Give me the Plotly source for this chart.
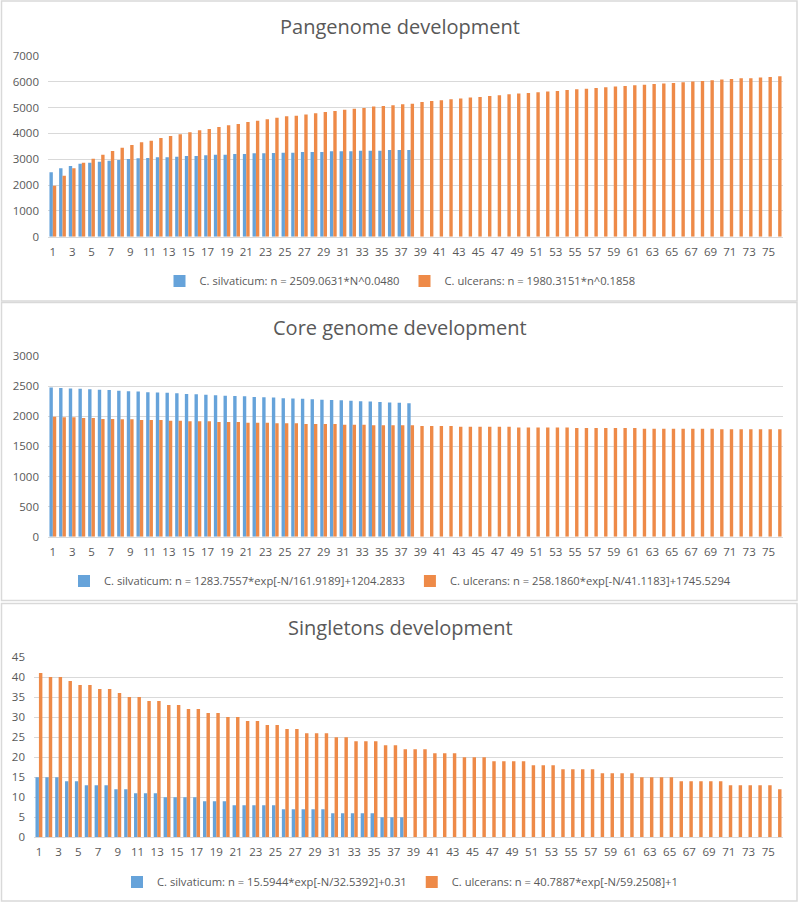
import plotly.graph_objects as go

# ---------------- data ----------------
genomes_silv = list(range(1, 39))
genomes_ulc = list(range(1, 77))
tick_vals = list(range(1, 77, 2))
tick_labels = [str(v) for v in tick_vals]

series_names = {
    "pan": ["C. silvaticum: n = 2509.0631*N^0.0480", "C. ulcerans: n = 1980.3151*n^0.1858"],
    "core": ["C. silvaticum: n = 1283.7557*exp[-N/161.9189]+1204.2833",
             "C. ulcerans: n = 258.1860*exp[-N/41.1183]+1745.5294"],
    "single": ["C. silvaticum: n = 15.5944*exp[-N/32.5392]+0.31",
               "C. ulcerans: n = 40.7887*exp[-N/59.2508]+1"],
}
titles = ["Pangenome development", "Core genome development", "Singletons development"]

pan_silv = [2495, 2648, 2739, 2829, 2868, 2907, 2946, 2972, 3010, 3036, 3049, 3075, 3075,
            3100, 3127, 3127, 3152, 3178, 3178, 3204, 3204, 3230, 3230, 3243, 3256, 3256,
            3282, 3282, 3282, 3307, 3307, 3307, 3333, 3333, 3333, 3359, 3359, 3359]
pan_ulc = [1977, 2364, 2648, 2868, 3023, 3178, 3320, 3450, 3553, 3656, 3721, 3824, 3902,
           3966, 4044, 4121, 4173, 4251, 4315, 4367, 4444, 4496, 4548, 4612, 4664, 4690,
           4729, 4780, 4832, 4871, 4922, 4961, 4987, 5039, 5065, 5090, 5129, 5155, 5220,
           5258, 5284, 5323, 5349, 5388, 5413, 5452, 5478, 5517, 5543, 5568, 5594, 5620,
           5646, 5685, 5711, 5736, 5762, 5788, 5814, 5840, 5866, 5891, 5917, 5930, 5956,
           5982, 6008, 6034, 6059, 6085, 6111, 6137, 6137, 6163, 6189, 6214]

core_silv = [2478, 2470, 2462, 2458, 2450, 2440, 2435, 2425, 2415, 2410, 2400, 2395, 2390,
             2380, 2370, 2365, 2355, 2350, 2340, 2335, 2330, 2320, 2315, 2310, 2300, 2295,
             2290, 2280, 2275, 2270, 2265, 2255, 2250, 2245, 2235, 2230, 2225, 2215]
core_ulc = [1993, 1982, 1982, 1970, 1970, 1954, 1954, 1948, 1948, 1937, 1937, 1937, 1926,
            1926, 1915, 1915, 1915, 1904, 1904, 1904, 1893, 1893, 1893, 1882, 1882, 1882,
            1871, 1871, 1871, 1871, 1860, 1860, 1860, 1849, 1849, 1849, 1849, 1849, 1838,
            1838, 1838, 1838, 1826, 1826, 1826, 1826, 1826, 1826, 1815, 1815, 1815, 1815,
            1815, 1815, 1804, 1804, 1804, 1804, 1804, 1804, 1804, 1793, 1793, 1793, 1793,
            1793, 1793, 1793, 1793, 1782, 1782, 1782, 1782, 1782, 1782, 1782]

single_silv = [15, 15, 15, 14, 14, 13, 13, 13, 12, 12, 11, 11, 11, 10, 10, 10, 10, 9, 9, 9,
               8, 8, 8, 8, 8, 7, 7, 7, 7, 7, 6, 6, 6, 6, 6, 5, 5, 5]
single_ulc = [41, 40, 40, 39, 38, 38, 37, 37, 36, 35, 35, 34, 34, 33, 33, 32, 32, 31, 31,
              30, 30, 29, 29, 28, 28, 27, 27, 26, 26, 26, 25, 25, 24, 24, 24, 23, 23, 22,
              22, 22, 21, 21, 21, 20, 20, 20, 19, 19, 19, 19, 18, 18, 18, 17, 17, 17, 17,
              16, 16, 16, 16, 15, 15, 15, 15, 14, 14, 14, 14, 14, 13, 13, 13, 13, 13, 12]

# ---------------- style ----------------
BLUE = "#66A3DA"
ORANGE = "#EE8A48"
TXT = "#595959"
GRID = "#D9D9D9"
FONT = "Open Sans"
W, H = 800, 903

def py(pix):
    return 1 - pix / H

def px_(pix):
    return pix / W

panels = [
    # key, silv, ulc, y-top px, y-bottom px, x-left px, y max, dtick, legend y px, title y px, box
    ("pan", pan_silv, pan_ulc, 56, 236.7, 48, 7000, 1000, 281, 27, (1, 301)),
    ("core", core_silv, core_ulc, 356, 536.7, 48, 3000, 500, 581, 327, (302.5, 600.5)),
    ("single", single_silv, single_ulc, 657, 837.3, 34, 45, 5, 882, 627, (603.5, 901)),
]

fig = go.Figure()
layout = dict(
    template="none",
    width=W, height=H, autosize=False,
    margin=dict(l=0, r=0, t=0, b=0, pad=0, autoexpand=False),
    paper_bgcolor="white", plot_bgcolor="white",
    barmode="group", bargap=0.3, bargroupgap=0,
    font=dict(family=FONT, color=TXT, size=11),
    showlegend=True,
)
shapes = []
annotations = []

for i, (key, silv, ulc, ytop, ybot, xleft, ymax, dtick, leg_y, title_y, box) in enumerate(panels):
    n = "" if i == 0 else str(i + 1)
    xa, ya = "x" + n, "y" + n
    leg = "legend" + n
    fig.add_trace(go.Bar(x=genomes_silv, y=silv, name=series_names[key][0], marker_color=BLUE,
                         marker_line_width=0, xaxis=xa, yaxis=ya, legend=leg, offsetgroup="a" + n))
    fig.add_trace(go.Bar(x=genomes_ulc, y=ulc, name=series_names[key][1], marker_color=ORANGE,
                         marker_line_width=0, xaxis=xa, yaxis=ya, legend=leg, offsetgroup="b" + n))
    layout["xaxis" + n] = dict(
        domain=[px_(xleft), px_(783)], anchor=ya, range=[0.5, 76.5], automargin=False,
        tickmode="array", tickvals=tick_vals, ticktext=tick_labels,
        showgrid=False, zeroline=False, showline=True, linecolor=GRID, linewidth=1,
        ticks="", tickfont=dict(size=11.5, color=TXT, family=FONT), ticklabelstandoff=4,
        fixedrange=True,
    )
    layout["yaxis" + n] = dict(
        domain=[py(ybot), py(ytop)], anchor=xa, range=[0, ymax], dtick=dtick, automargin=False,
        showgrid=True, gridcolor=GRID, gridwidth=1, zeroline=False, showline=False,
        ticks="", tickfont=dict(size=11.5, color=TXT, family=FONT), ticklabelstandoff=8,
        fixedrange=True,
    )
    layout[leg] = dict(
        orientation="h", x=0.5, xanchor="center", y=py(leg_y), yanchor="middle",
        font=dict(size=11.2, color=TXT, family=FONT), bgcolor="rgba(0,0,0,0)",
        itemwidth=30, traceorder="normal", borderwidth=0,
    )
    annotations.append(dict(
        text=titles[i], x=0.5, y=py(title_y), xref="paper", yref="paper",
        xanchor="center", yanchor="middle", showarrow=False,
        font=dict(size=20, color=TXT, family=FONT),
    ))
    shapes.append(dict(
        type="rect", xref="paper", yref="paper",
        x0=px_(1.5), x1=px_(797), y0=py(box[1]), y1=py(box[0]),
        line=dict(color=GRID, width=1.5), fillcolor="rgba(0,0,0,0)", layer="below",
    ))

layout["shapes"] = shapes
layout["annotations"] = annotations
fig.update_layout(**layout)
fig.write_html(
    "out.html",
    config={"displayModeBar": False, "staticPlot": True},
    post_script="document.body.style.margin='0';document.body.style.overflow='hidden';",
)
